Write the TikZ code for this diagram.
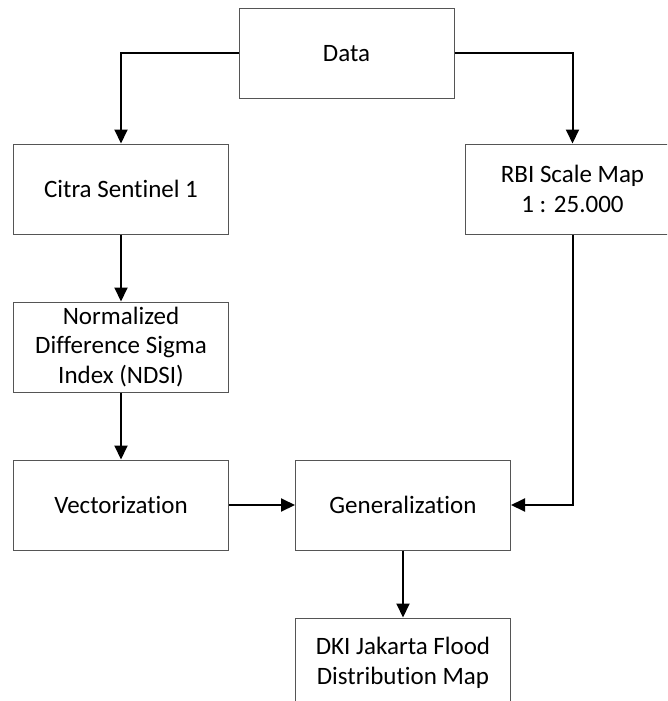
\documentclass[tikz,border=0pt]{standalone}
\usepackage{fontspec}
\setmainfont{Carlito}[RawFeature=-liga]
\usetikzlibrary{arrows.meta}
\definecolor{boxgray}{RGB}{85,85,85}
\begin{document}
\begin{tikzpicture}[x=1pt,y=-1pt,
  box/.style={draw=boxgray, line width=1pt, minimum width=215pt, minimum height=90pt,
    inner sep=0pt, align=center, font=\fontsize{25}{29.5}\selectfont, text=black},
  conn/.style={line width=2pt, -{Triangle[length=14pt,width=13pt]}}]
\useasboundingbox (0,0) rectangle (667,701);
\clip (0,0) rectangle (667,701);
\node[box] (data) at (346.5,53.5) {Data};
\node[box] (citra) at (121,189) {Citra Sentinel 1};
\node[box] (rbi) at (572.5,189) {RBI Scale Map\\1 : 25.000};
\node[box] (ndsi) at (121,347) {Normalized\\Difference Sigma\\Index (NDSI)};
\node[box] (vec) at (121,505) {Vectorization};
\node[box] (gen) at (403,505) {Generalization};
\node[box] (dki) at (403,663) {DKI Jakarta Flood\\Distribution Map};
\draw[conn] (data.west) -| (citra.north);
\draw[conn] (data.east) -| (rbi.north);
\draw[conn] (citra) -- (ndsi);
\draw[conn] (ndsi) -- (vec);
\draw[conn] (vec) -- (gen);
\draw[conn] (rbi.south) |- (gen.east);
\draw[conn] (gen) -- (dki);
\end{tikzpicture}
\end{document}
